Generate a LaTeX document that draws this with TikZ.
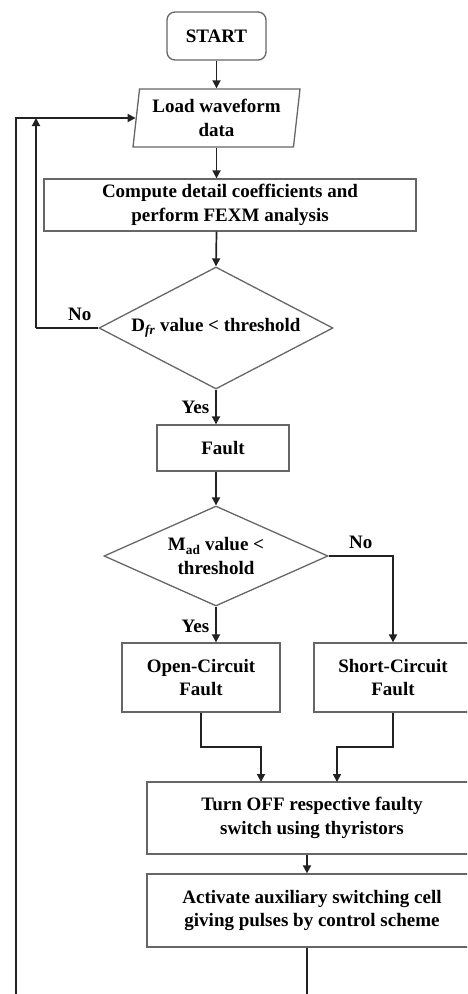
\documentclass[tikz,border=0pt]{standalone}
\usepackage{fontspec}
\setmainfont{Liberation Serif}
\usetikzlibrary{arrows.meta,shapes.geometric,positioning}
\definecolor{boxgray}{HTML}{666666}
\definecolor{linegray}{HTML}{222222}

\begin{document}
\begin{tikzpicture}[x=1pt,y=-1pt]
    \tikzset{vertex/.style = {shape=rectangle,draw=boxgray,line width=1.3pt,align=center,
        font=\fontsize{19}{23.5}\selectfont\bfseries,inner sep=2pt}}
    \tikzset{decision/.style = {vertex,shape=diamond,aspect=1.9,inner sep=0pt}}
    \tikzset{edge/.style = {-{Triangle[length=8pt,width=8pt]},draw=linegray,line width=1.7pt}}
    \tikzset{line/.style = {draw=linegray,line width=1.7pt}}
    \tikzset{lab/.style = {font=\fontsize{19}{23.5}\selectfont\bfseries,inner sep=0pt}}
    \useasboundingbox (0,0) rectangle (467,994);
    \clip (0,0) rectangle (467,994);
    % vertices
    \node[vertex,rounded corners=8pt,minimum width=99pt,minimum height=48pt] (start) at (216.5,36) {START};
    \node[vertex,trapezium,trapezium left angle=80,trapezium right angle=100,trapezium stretches body,
        minimum width=167pt,minimum height=58pt,inner sep=0pt] (load) at (216.5,118) {Load waveform\\data};
    \node[vertex,minimum width=372pt,minimum height=52pt] (comp) at (230,205) {Compute detail coefficients and\\perform FEXM analysis};
    \node[decision,minimum width=234pt,minimum height=122pt] (dfr) at (216,328) {D\textsubscript{\textit{fr}} value < threshold};
    \node[vertex,minimum width=132pt,minimum height=46pt] (fault) at (223,448) {Fault};
    \node[decision,minimum width=224pt,minimum height=100pt] (mad) at (216,556) {M\textsubscript{ad} value <\\threshold};
    \node[vertex,minimum width=158pt,minimum height=69pt] (open) at (201,677.5) {Open-Circuit\\Fault};
    \node[vertex,minimum width=158pt,minimum height=69pt] (short) at (393,677.5) {Short-Circuit\\Fault};
    \node[vertex,minimum width=330pt,minimum height=72pt] (turn) at (312,818) {Turn OFF respective faulty\\switch using thyristors};
    \node[vertex,minimum width=330pt,minimum height=73pt] (act) at (312,910.5) {Activate auxiliary switching cell\\giving pulses by control scheme};
    % corners of the loops
    \coordinate (nocorner) at (36,328);
    \coordinate (looptop) at (36,118);
    \coordinate (loopbottom) at (16,1010);
    % edges
    \draw[edge] (start) -- (load);
    \draw[edge] (load.south) -- (load.south |- comp.north);
    \draw[edge] (comp.south -| load.south) -- (dfr.north);
    \draw[edge] (dfr.south) -- (dfr.south |- fault.north) node[lab,midway,left=6pt] {Yes};
    \draw[edge] (fault.south -| dfr.south) -- (mad.north);
    \draw[edge] (mad.south) -- (mad.south |- open.north) node[lab,midway,left=6pt,yshift=-2pt] {Yes};
    \draw[line] (dfr.west) -- (nocorner) node[lab,pos=0.3,above=6pt] {No};
    \draw[edge] (nocorner) -- (looptop);
    \draw[edge] (mad.east) -| (short.north) node[lab,pos=0.25,above=6pt] {No};
    \draw[edge] (open.south) |- (261,747) -- (261,782);
    \draw[edge] (short.south) |- (337,747) -- (337,782);
    \draw[edge] (turn.south -| 307,0) -- (act.north -| 307,0);
    \draw[edge] (act.south -| 307,0) |- (loopbottom) |- (load.west);
\end{tikzpicture}
\end{document}
